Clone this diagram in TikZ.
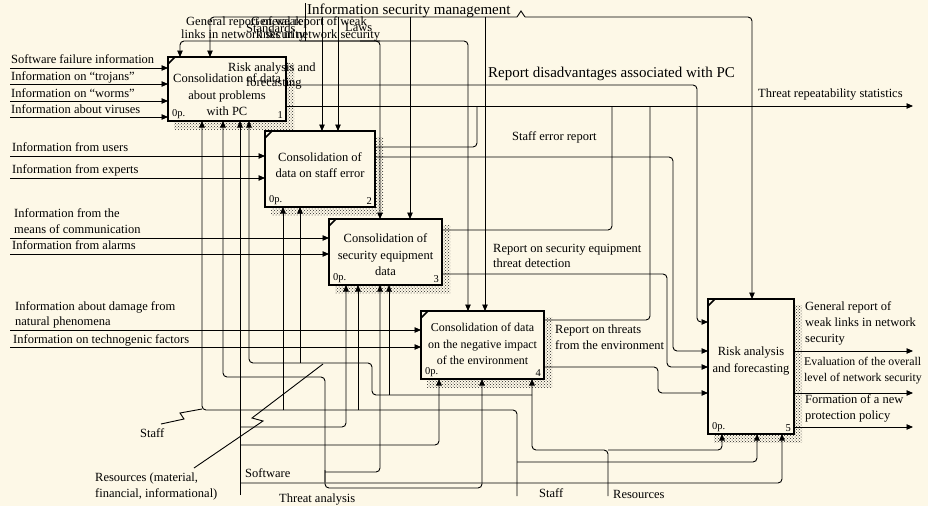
\documentclass[tikz,border=0pt]{standalone}
\usepackage{fontspec}
\setmainfont{Liberation Serif}
\usetikzlibrary{arrows.meta,patterns,calc}
\definecolor{bgc}{RGB}{253,248,231}
\begin{document}
\begin{tikzpicture}[x=1pt,y=-1pt,
  conn/.style={line width=0.9pt, rounded corners=4pt},
  arrw/.style={conn, -{Triangle[length=6.5pt,width=5.5pt]}},
  idefbox/.style={draw, line width=2.4pt, fill=bgc, inner sep=0pt, outer sep=0pt},
  shade/.style={pattern=crosshatch dots, pattern color=black!85},
  btxt/.style={align=center, inner sep=0pt, font=\fontsize{12.5}{16.5}\selectfont},
  lbl/.style={anchor=base west, inner sep=0pt, font=\fontsize{12.5}{15}\selectfont},
  biglbl/.style={anchor=base west, inner sep=0pt, font=\fontsize{15}{18}\selectfont},
  numtxt/.style={inner sep=0pt, font=\fontsize{10.5}{12}\selectfont},
  tick/.style={line width=1.6pt}
]
\fill[bgc] (0,0) rectangle (928,506);
\useasboundingbox (0,0) rectangle (928,506);

% shadows
\fill[shade] (174,63) rectangle (294,129);
\fill[shade] (271,137) rectangle (383,215);
\fill[shade] (335,225) rectangle (450,293);
\fill[shade] (427,317) rectangle (552,387);
\fill[shade] (714,305) rectangle (802,442);

% boxes
\node[idefbox, minimum width=118pt, minimum height=64pt] (b1) at (227,89) {};
\node[idefbox, minimum width=110pt, minimum height=76pt] (b2) at (320,169) {};
\node[idefbox, minimum width=113pt, minimum height=66pt] (b3) at (385.5,252) {};
\node[idefbox, minimum width=123pt, minimum height=68pt] (b4) at (482.5,345) {};
\node[idefbox, minimum width=86pt, minimum height=135pt] (b5) at (751,366.5) {};

\foreach \b in {b1,b2,b3,b4,b5}
  \draw[tick] ($(\b.north west)+(0,7)$) -- ($(\b.north west)+(7,0)$);
\foreach \b/\n in {b1/1,b2/2,b3/3,b4/4,b5/5}{
  \node[numtxt, anchor=south west] (op\n) at ($(\b.south west)+(4,-2)$) {0p.};
  \node[numtxt, anchor=south east] (nr\n) at ($(\b.south east)+(-3,-2)$) {\n};
}

\node[btxt] (t1) at (227,95) {Consolidation of data\\about problems\\with PC};
\node[btxt] (t2) at (320,165) {Consolidation of\\data on staff error};
\node[btxt] (t3) at (385.5,255) {Consolidation of\\security equipment\\data};
\node[btxt, font=\fontsize{12}{16.5}\selectfont] (t4) at (482.5,344) {Consolidation of data\\on the negative impact\\of the environment};
\node[btxt] (t5) at (751,361) {Risk analysis\\and forecasting};

% ---------- inputs ----------
\coordinate (i11) at (10,68);  \coordinate (i12) at (10,84);
\coordinate (i13) at (10,101); \coordinate (i14) at (10,117);
\coordinate (i21) at (10,156); \coordinate (i22) at (10,178);
\coordinate (i31) at (10,238); \coordinate (i32) at (10,254);
\coordinate (i41) at (10,330); \coordinate (i42) at (10,347);
\foreach \c in {i11,i12,i13,i14} \draw[arrw] (\c) -- (\c -| b1.west);
\foreach \c in {i21,i22} \draw[arrw] (\c) -- (\c -| b2.west);
\foreach \c in {i31,i32} \draw[arrw] (\c) -- (\c -| b3.west);
\foreach \c in {i41,i42} \draw[arrw] (\c) -- (\c -| b4.west);

\node[lbl] (li11) at (11,63) {Software failure information};
\node[lbl] (li12) at (11,80) {Information on “trojans”};
\node[lbl] (li13) at (11,97) {Information on “worms”};
\node[lbl] (li14) at (11,113) {Information about viruses};
\node[lbl] (li21) at (12,151) {Information from users};
\node[lbl] (li22) at (12,173) {Information from experts};
\node[lbl] (li31) at (14,217) {Information from the};
\node[lbl] (li32) at (14,233) {means of communication};
\node[lbl] (li33) at (12,249) {Information from alarms};
\node[lbl] (li41) at (15,310) {Information about damage from};
\node[lbl] (li42) at (15,325) {natural phenomena};
\node[lbl] (li43) at (13,343) {Information on technogenic factors};

% ---------- outputs of box 5 ----------
\coordinate (o51) at (913,351); \coordinate (o52) at (913,393); \coordinate (o53) at (913,427);
\foreach \c in {o51,o52,o53} \draw[arrw] (\c -| b5.east) -- (\c);
\node[lbl] (lo1) at (805,310) {General report of};
\node[lbl] (lo2) at (805,326) {weak links in network};
\node[lbl] (lo3) at (805,342) {security};
\node[lbl, font=\fontsize{11.8}{14}\selectfont] (lo4) at (804,365) {Evaluation of the overall};
\node[lbl, font=\fontsize{11.8}{14}\selectfont] (lo5) at (804,381) {level of network security};
\node[lbl] (lo6) at (805,403) {Formation of a new};
\node[lbl] (lo7) at (805,419) {protection policy};

% ---------- internal outputs ----------
\coordinate (thr) at (913,106);
\draw[arrw] (thr -| b1.east) -- (thr);
\node[lbl] (lthr) at (758,97) {Threat repeatability statistics};
\draw[arrw] (b1.east |- 0,85) -| (697,200) |- (b5.west |- 0,322);
\node[biglbl] (rdis) at (488,77) {Report disadvantages associated with PC};
\draw[conn] (b2.east |- 0,147) -| (477,106);
\draw[arrw] (b2.east |- 0,157) -| (673,250) |- (b5.west |- 0,351);
\node[lbl] (ser) at (512,140) {Staff error report};
\draw[conn] (b3.east |- 0,230) -| (612,106);
\draw[arrw] (b3.east |- 0,274) -| (667,320) |- (b5.west |- 0,367);
\node[lbl] (rse1) at (493,252) {Report on security equipment};
\node[lbl] (rse2) at (493,267) {threat detection};
\draw[conn] (b4.east |- 0,320) -| (650,106);
\draw[arrw] (b4.east |- 0,367) -| (658,380) |- (b5.west |- 0,393);
\node[lbl] (rte1) at (555,333) {Report on threats};
\node[lbl] (rte2) at (555,349) {from the environment};

% ---------- controls ----------
\coordinate (ismsrc) at (305,3);
\draw[conn] (ismsrc) -- (305,41);
\draw[arrw] (517,17) -| (b1.north -| 210,0);
\draw[arrw] (525,17) -| (b5.north -| 752,0);
\draw[conn, rounded corners=0pt] (517,17) -- (521,11) -- (525,17);
\draw[arrw] (322,17) -- (b2.north -| 322,0);
\draw[arrw] (338,17) -- (b2.north -| 338,0);
\draw[arrw] (410,17) -- (b3.north -| 410,0);
\draw[arrw] (485,17) -- (b4.north -| 485,0);
\draw[arrw] (380,41) -| (b1.north -| 180,0);
\draw[arrw] (300,41) -| (b4.north -| 468,0);
\draw[arrw] (360,41) -| (b3.north -| 380,0);
\node[biglbl] (ism) at (307,14) {Information security management};
\node[lbl] (gr1a) at (186,25) {General report of weak};
\node[lbl] (gr1b) at (181,38) {links in network security};
\node[lbl] (gr2a) at (251,25) {General report of weak};
\node[lbl] (gr2b) at (256,38) {links in network security};
\node[lbl] (std) at (246,32) {Standards};
\node[lbl] (laws) at (345,31) {Laws};
\node[lbl] (raf1) at (228,71) {Risk analysis and};
\node[lbl] (raf2) at (246,86) {forecasting};

% ---------- mechanisms ----------
% Staff
\coordinate (stfsrc) at (517,496);
\draw[arrw] (stfsrc) |- (202,410) -- (b1.south -| 202,0);
\draw[arrw] (283,410) -- (b2.south -| 283,0);
\draw[arrw] (358,410) -- (b3.south -| 358,0);
\draw[arrw] (517,462) -| (b5.south -| 757,0);
\node[lbl] (stfb) at (539,497) {Staff};
\node[lbl] (stfl) at (140,437) {Staff};
\draw[conn, rounded corners=0pt] (161,424) -- (184,419) -- (180,413) -- (202,409);
% Software
\coordinate (swsrc) at (240,495);
\draw[arrw] (swsrc) -- (b1.south -| 240,0);
\draw[arrw] (240,427) -| (b3.south -| 346,0);
\draw[arrw] (240,445) -| (b4.south -| 439,0);
\draw[arrw] (240,483) -| (b5.south -| 782,0);
\node[lbl] (sw) at (245,477) {Software};
% Threat analysis
\draw[arrw] (325,470) |- (482,488) -- (b4.south -| 482,0);
\draw[arrw] (325,482) |- (223,377) -- (b1.south -| 223,0);
\draw[arrw] (325,472) -| (b3.south -| 380,0);
\node[lbl] (ta) at (279,502) {Threat analysis};
% Resources
\coordinate (ressrc) at (608,496);
\draw[arrw] (ressrc) |- (532,450) -- (b4.south -| 532,0);
\draw[arrw] (608,450) -| (b5.south -| 722,0);
\node[lbl] (res) at (613,498) {Resources};
% Resources (material, financial, informational)
\draw[arrw] (532,395) -| (372,380) |- (249,363) -- (b1.south -| 249,0);
\draw[arrw] (300,363) -- (b2.south -| 300,0);
\draw[arrw] (389,395) -- (b3.south -| 389,0);
\node[lbl] (rmf1) at (95,481) {Resources (material,};
\node[lbl] (rmf2) at (95,497) {financial, informational)};
\draw[conn, rounded corners=0pt] (194,468) -- (263,421) -- (252,418) -- (323,364);
\end{tikzpicture}
\end{document}
